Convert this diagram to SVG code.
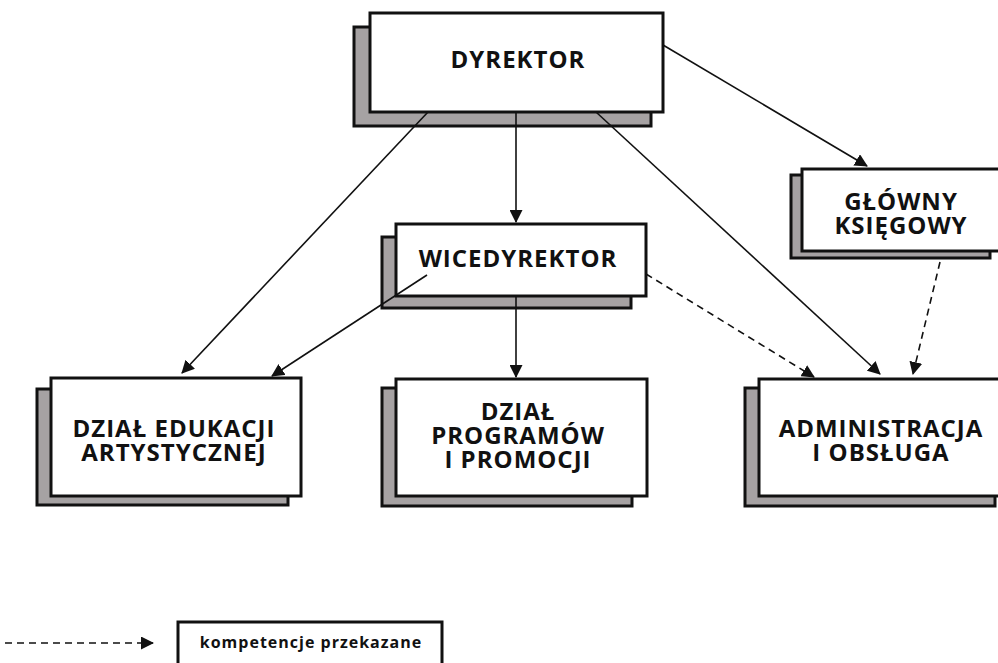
<svg xmlns="http://www.w3.org/2000/svg" width="998" height="663" viewBox="0 0 998 663">
<defs>
<style>
.sh{fill:#a6a2a3;stroke:#111;stroke-width:3}
.fr{fill:#fff;stroke:#111;stroke-width:3}
.t{font-family:"Open Sans","DejaVu Sans",sans-serif;font-weight:bold;font-size:24px;letter-spacing:1px;fill:#111;text-anchor:middle}
.c{stroke:#111;stroke-width:1.6;fill:none;marker-end:url(#ah)}
.d{stroke-dasharray:7 5}
</style>
<marker id="ah" viewBox="0 0 13 13" refX="12" refY="6.5" markerWidth="13" markerHeight="13" markerUnits="userSpaceOnUse" orient="auto">
<path d="M0,0 L13,6.5 L0,13 Z" fill="#111"/>
</marker>
</defs>
<rect width="998" height="663" fill="#fff"/>
<g id="dyrektor">
<rect class="sh" x="354" y="27" width="297" height="99"/>
<rect class="fr" x="370" y="13" width="293" height="99"/>
<text class="t" x="518" y="68">DYREKTOR</text>
</g>
<g id="wicedyrektor">
<rect class="sh" x="382" y="237" width="249" height="71"/>
<rect class="fr" x="396" y="224" width="250" height="72"/>
<text class="t" x="518" y="267">WICEDYREKTOR</text>
</g>
<g id="glowny">
<rect class="sh" x="791" y="175" width="199" height="83"/>
<rect class="fr" x="802" y="169" width="200" height="82"/>
<text class="t" x="901" y="210">GŁÓWNY</text>
<text class="t" x="901" y="234">KSIĘGOWY</text>
</g>
<g id="edukacja">
<rect class="sh" x="37" y="389" width="251" height="116"/>
<rect class="fr" x="51" y="378" width="250" height="118"/>
<text class="t" x="174" y="437">DZIAŁ EDUKACJI</text>
<text class="t" x="174" y="461">ARTYSTYCZNEJ</text>
</g>
<g id="programy">
<rect class="sh" x="382" y="388" width="250" height="118"/>
<rect class="fr" x="396" y="379" width="251" height="117"/>
<text class="t" x="518" y="420">DZIAŁ</text>
<text class="t" x="518" y="444">PROGRAMÓW</text>
<text class="t" x="518" y="468">I PROMOCJI</text>
</g>
<g id="administracja">
<rect class="sh" x="745" y="388" width="250" height="118"/>
<rect class="fr" x="759" y="379" width="250" height="117"/>
<text class="t" x="881" y="437">ADMINISTRACJA</text>
<text class="t" x="881" y="461">I OBSŁUGA</text>
</g>
<g id="connectors">
<line class="c" x1="428" y1="112" x2="182" y2="373"/>
<line class="c" x1="516" y1="112" x2="516" y2="222"/>
<line class="c" x1="596" y1="112" x2="880" y2="374"/>
<line class="c" x1="663" y1="45" x2="867" y2="166"/>
<line class="c" x1="427" y1="275" x2="272" y2="376"/>
<line class="c" x1="516" y1="296" x2="516" y2="377"/>
<line class="c d" x1="646" y1="274" x2="814" y2="377"/>
<line class="c d" x1="940" y1="262" x2="913" y2="374"/>
</g>
<g id="legend">
<line class="c d" x1="5" y1="643" x2="153" y2="643"/>
<path d="M178,663 V622 H442 V663" fill="none" stroke="#111" stroke-width="3"/>
<text x="311" y="648" font-family="'Open Sans','DejaVu Sans',sans-serif" font-weight="bold" font-size="16" letter-spacing="1" fill="#111" text-anchor="middle">kompetencje przekazane</text>
</g>
</svg>
